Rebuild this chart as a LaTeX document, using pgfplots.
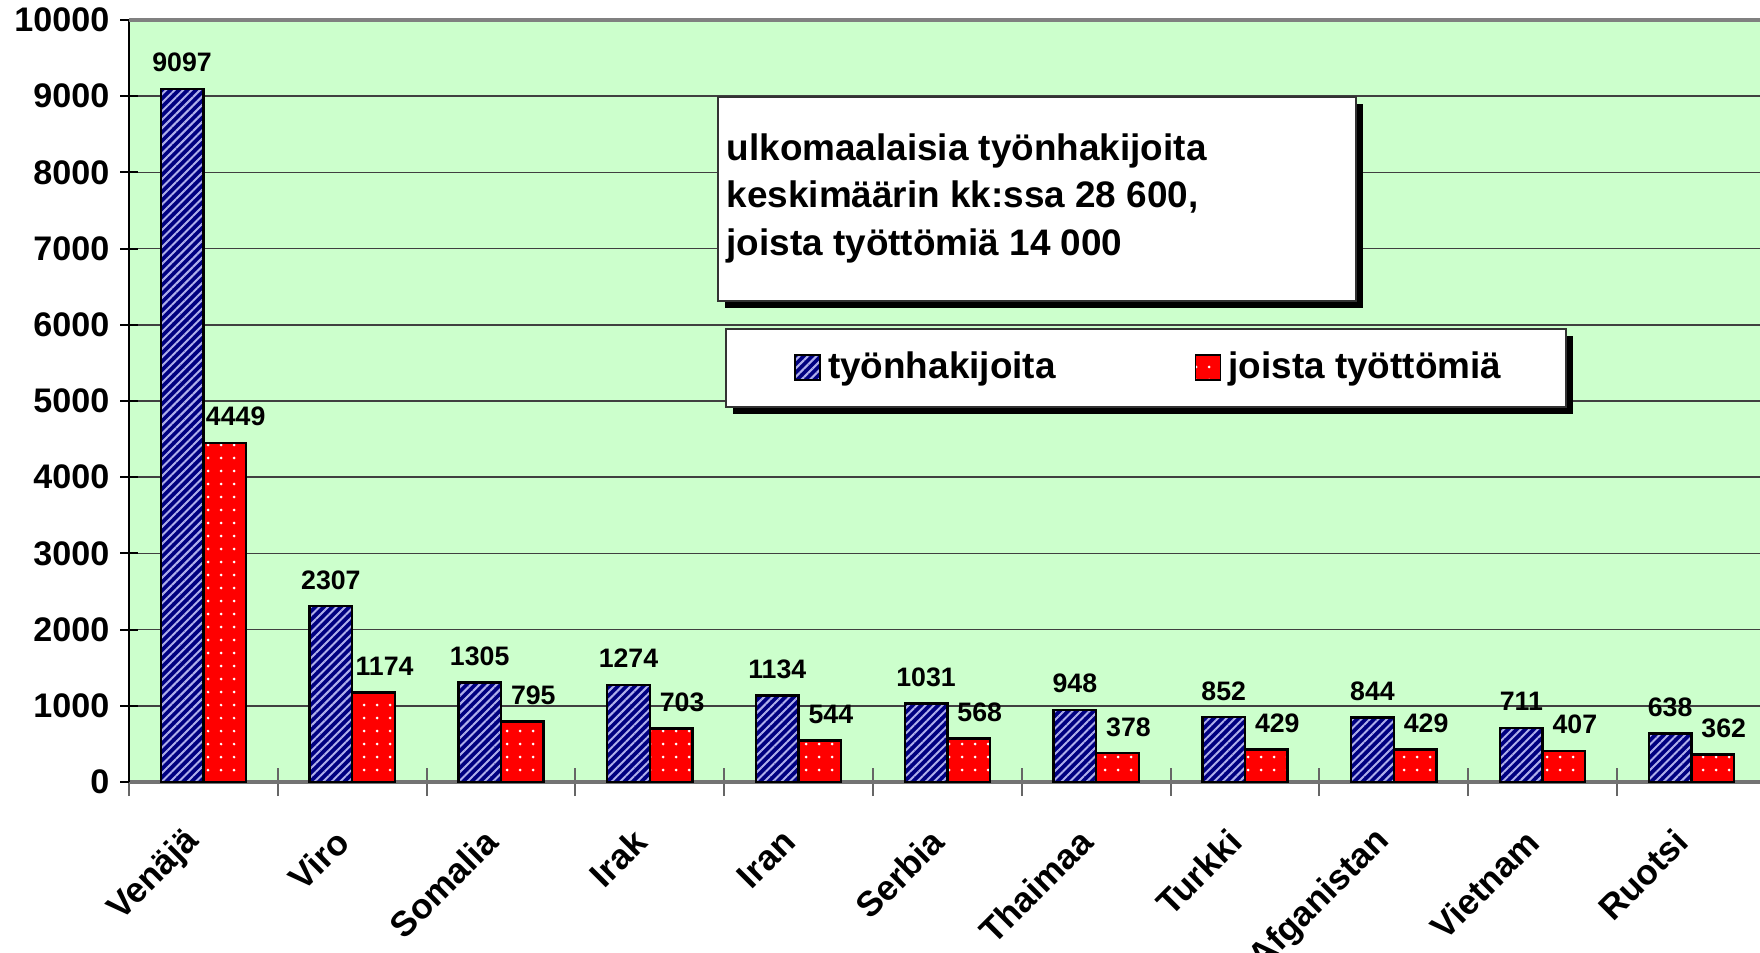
\documentclass[border=0pt]{standalone}
\usepackage{pgfplots}
\pgfplotsset{compat=1.18}
\usetikzlibrary{patterns.meta,shadows}
\usepackage{fontspec}
\setmainfont{Liberation Sans}
\definecolor{bg}{RGB}{204,255,204}
\definecolor{navybar}{RGB}{0,0,128}
\definecolor{stripe}{RGB}{175,175,235}

\begin{document}
\begin{tikzpicture}
\clip (0,0) rectangle (176mm,95.2mm);
\begin{axis}[
    at={(12.9mm,17.0mm)}, anchor=south west,
    scale only axis, width=163.1mm, height=76.2mm,
    axis background/.style={fill=bg},
    clip=false,
    ybar=0pt, bar width=4.26mm,
    xmin=-0.5, xmax=10.461,
    ymin=0, ymax=10000,
    ytick={0,1000,...,10000},
    ymajorgrids, grid style={black!75, line width=0.5pt},
    axis x line*=bottom, axis y line*=left,
    x axis line style={black!55, line width=1.2pt, -},
    y axis line style={black, line width=0.6pt, -},
    xtick={0,...,10},
    xticklabels={Venäjä,Viro,Somalia,Irak,Iran,Serbia,Thaimaa,Turkki,Afganistan,Vietnam,Ruotsi},
    major x tick style={draw=none},
    minor xtick={-0.5,0.5,...,10.5},
    minor x tick style={black!60, line width=0.6pt},
    y tick style={black, line width=0.6pt},
    minor tick length=2.8mm,
    major tick length=1.8mm,
    tick align=center,
    /pgf/number format/assume math mode=true,
    /pgf/number format/1000 sep={},
    scaled y ticks=false,
    yticklabel style={font=\fontsize{9.7}{11}\selectfont\bfseries, anchor=east, inner sep=0pt, xshift=-1.0mm},
    % shifts act in the rotated frame
    xticklabel style={font=\fontsize{10}{12}\selectfont\bfseries, rotate=45, anchor=east, inner sep=0pt, xshift=-3.8mm, yshift=-2.5mm},
    nodes near coords,
    nodes near coords style={font=\fontsize{7.6}{8}\selectfont\bfseries, anchor=base, inner sep=0pt, yshift=1.7mm},
    legend columns=2,
    legend style={at={(axis cs:6.37,5433)}, anchor=center, draw=none, fill=none,
        font=\fontsize{10.5}{12}\selectfont\bfseries,
        /tikz/every even column/.append style={column sep=13.2mm}},
    legend image code/.code={\draw[#1, line width=0.5pt] (0mm,-1.2mm) rectangle (2.5mm,1.3mm);},
]
% boxes first so that the legend sits on top
\draw[fill=white, draw=black!80, line width=0.5pt,
      drop shadow={opacity=1, fill=black, shadow xshift=0.7mm, shadow yshift=-0.7mm}]
    (axis cs:3.458,6312) rectangle (axis cs:7.746,8990);
\draw[fill=white, draw=black!80, line width=0.5pt,
      drop shadow={opacity=1, fill=black, shadow xshift=0.7mm, shadow yshift=-0.7mm}]
    (axis cs:3.512,4921) rectangle (axis cs:9.157,5945);
\node[anchor=base west, inner sep=0pt, font=\fontsize{10.5}{12}\selectfont\bfseries] at (axis cs:3.512,8150) {ulkomaalaisia työnhakijoita};
\node[anchor=base west, inner sep=0pt, font=\fontsize{10.5}{12}\selectfont\bfseries] at (axis cs:3.512,7533) {keskimäärin kk:ssa 28 600,};
\node[anchor=base west, inner sep=0pt, font=\fontsize{10.5}{12}\selectfont\bfseries] at (axis cs:3.512,6916) {joista työttömiä 14 000};

\addplot[fill=navybar, draw=black, line width=0.7pt,
    postaction={pattern={Lines[angle=45,distance=0.6mm,line width=0.2mm]}, pattern color=stripe}]
    coordinates {(0,9097) (1,2307) (2,1305) (3,1274) (4,1134) (5,1031)
                 (6,948) (7,852) (8,844) (9,711) (10,638)};
\addlegendentry{työnhakijoita}
\addplot[fill=red, draw=black, line width=0.7pt,
    postaction={pattern={Dots[distance=1.3mm,radius=0.15mm]}, pattern color=white},
    nodes near coords style={xshift=1.1mm}]
    coordinates {(0,4449) (1,1174) (2,795) (3,703) (4,544) (5,568)
                 (6,378) (7,429) (8,429) (9,407) (10,362)};
\addlegendentry{joista työttömiä}

\draw[black!50, line width=1.2pt] (rel axis cs:0,1) -- (rel axis cs:1,1);
\end{axis}
\end{tikzpicture}
\end{document}
